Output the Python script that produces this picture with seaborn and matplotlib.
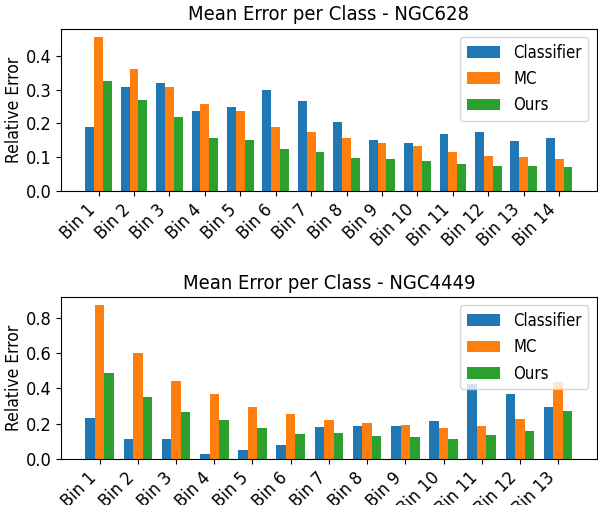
import numpy as np
import pandas as pd
import seaborn as sns
from matplotlib import pyplot as plt
from matplotlib.ticker import MultipleLocator

methods = ['Classifier', 'MC', 'Ours']
colors = ['#1f77b4', '#ff7f0e', '#2ca02c']

# NGC628 - 14 bins
bins_628 = [f'Bin {i}' for i in range(1, 15)]
classifier_628 = [0.191, 0.307, 0.319, 0.236, 0.248, 0.298, 0.268, 0.203, 0.152, 0.141, 0.170, 0.176, 0.147, 0.158]
mc_628 = [0.458, 0.363, 0.307, 0.259, 0.236, 0.191, 0.176, 0.158, 0.141, 0.132, 0.114, 0.105, 0.102, 0.096]
ours_628 = [0.325, 0.271, 0.218, 0.158, 0.150, 0.123, 0.114, 0.099, 0.096, 0.090, 0.081, 0.075, 0.075, 0.072]

# NGC4449 - 13 bins
bins_4449 = [f'Bin {i}' for i in range(1, 14)]
classifier_4449 = [0.234, 0.115, 0.115, 0.030, 0.053, 0.081, 0.183, 0.189, 0.189, 0.217, 0.426, 0.370, 0.296]
mc_4449 = [0.874, 0.602, 0.443, 0.370, 0.296, 0.257, 0.223, 0.206, 0.194, 0.177, 0.189, 0.228, 0.438]
ours_4449 = [0.489, 0.353, 0.268, 0.223, 0.177, 0.143, 0.149, 0.132, 0.126, 0.115, 0.138, 0.160, 0.274]

plt.rcParams['font.family'] = ['DejaVu Sans']
plt.rcParams['font.stretch'] = 'condensed'


def long_df(bins, *series):
    rows = []
    for m, vals in zip(methods, series):
        for b, v in zip(bins, vals):
            rows.append({'bin': b, 'method': m, 'error': v})
    return pd.DataFrame(rows)


fig, axes = plt.subplots(2, 1, figsize=(5.98, 5.05), dpi=100)
fig.subplots_adjust(left=0.102, right=0.998, top=0.943, bottom=0.091, hspace=0.654)

panels = [
    ('NGC628', bins_628, (classifier_628, mc_628, ours_628), 0.1),
    ('NGC4449', bins_4449, (classifier_4449, mc_4449, ours_4449), 0.2),
]

for ax, (name, bins, series, step) in zip(axes, panels):
    df = long_df(bins, *series)
    sns.barplot(data=df, x='bin', y='error', hue='method', palette=colors,
                width=0.75, saturation=1, ax=ax, order=bins, hue_order=methods)
    n = len(bins)
    pad = 0.05 * (n - 1 + 0.75)
    ax.set_xlim(-0.375 - pad, n - 1 + 0.375 + pad)
    ymax = max(max(s) for s in series)
    ax.set_ylim(0, ymax * 1.05)
    ax.yaxis.set_major_locator(MultipleLocator(step))
    ax.yaxis.set_major_formatter(lambda v, p: f'{v:.1f}')
    ax.set_title(f'Mean Error per Class - {name}', fontsize=14.5)
    ax.set_xlabel('')
    ax.set_ylabel('Relative Error', fontsize=12.5, labelpad=2)
    ax.tick_params(axis='both', labelsize=13)
    plt.setp(ax.get_xticklabels(), rotation=45, ha='right', rotation_mode='default')
    ax.legend(loc='upper right', fontsize=12, title=None)

fig.savefig('out.png', dpi=100)
